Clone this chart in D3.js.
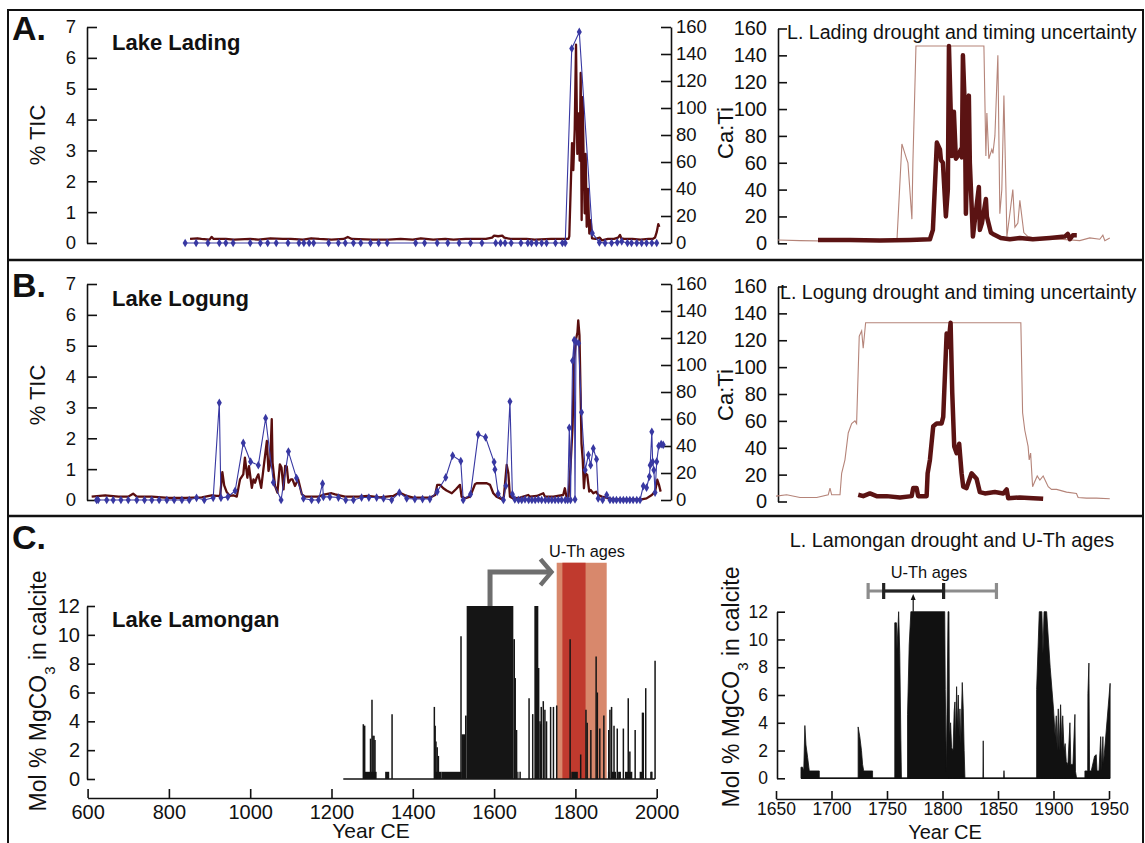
<!DOCTYPE html>
<html><head><meta charset="utf-8">
<script src="https://cdn.jsdelivr.net/npm/d3@7"></script>
<style>
body{margin:0;background:#fff}
svg{display:block}
</style>
</head><body>
<svg id="c" width="1145" height="843"></svg>
<script>
// ---------------- DATA ----------------
const ticTicks = [0,1,2,3,4,5,6,7];
const caTicks = [0,20,40,60,80,100,120,140,160];
const mgTicks = [0,2,4,6,8,10,12];
const yearTicksLeft = [600,800,1000,1200,1400,1600,1800,2000];
const yearTicksRight = [1650,1700,1750,1800,1850,1900,1950];

// Lake Lading %TIC (year, %)
const ladingTIC = [[840,0],[867,0],[896,0],[924,0],[940,0],[958,0],[1000,0],[1025,0],[1043,0],[1064,0],[1093,0],[1120,0],[1132,0],[1145,0],[1156,0],[1193,0],[1217,0],[1234,0],[1254,0],[1272,0],[1296,0],[1316,0],[1337,0],[1407,0],[1429,0],[1460,0],[1486,0],[1514,0],[1542,0],[1570,0],[1604,0],[1616,0],[1627,0],[1642,0],[1666,0],[1683,0],[1692,0],[1704,0],[1717,0],[1729,0],[1751,0],[1768,0],[1775,0],[1791,6.3],[1809.6,6.84],[1841.6,0.32],[1859,0.02],[1873,0],[1889,0],[1903,0.02],[1914,0.05],[1928,0],[1938,0],[1951,0],[1963,0],[1975,0],[1988,0],[2000,0]];
// Lake Lading Ca:Ti (year, ratio)
const ladingCaTi = [[852,3],[870,3.5],[880,3],[900,2.5],[905,4.5],[910,3],[940,3],[960,2.5],[1000,3],[1020,2.5],[1050,3.5],[1080,3],[1100,3],[1130,2.5],[1150,3.5],[1170,3],[1200,2.5],[1230,3],[1240,4.5],[1250,3],[1300,2.5],[1340,2.5],[1370,3],[1400,2.5],[1420,3.5],[1450,2.5],[1480,3],[1500,2.5],[1530,3],[1560,3],[1580,3],[1595,4],[1600,5.5],[1610,5],[1620,5.5],[1625,4],[1640,3],[1680,3],[1700,2.5],[1740,3],[1770,3],[1783,3],[1785,5],[1791.7,74],[1794.8,54],[1798.3,84],[1801.5,147],[1804.7,66],[1808.1,96],[1810.5,61],[1813,126],[1815.4,17],[1817.9,108],[1820.4,59],[1822.8,22],[1825.3,66],[1827.8,12],[1831,40],[1834.2,7],[1837.6,17],[1840.9,3.5],[1850,3],[1860,4],[1865,2],[1880,3],[1895,3],[1905,4],[1909.7,6],[1913,3.5],[1920,3],[1940,3],[1960,2.5],[1980,3],[1990,3],[1995.8,4],[2000,8],[2004,14],[2006.4,12]];

// Lake Logung %TIC
const logungTIC = [[622,0],[626,0],[647,0],[663,0],[682,0],[700,0],[721,0],[740,0],[758,0],[776,0],[795,0],[813,0],[832,0],[850,0],[868,0.07],[887,0],[909,0.07],[924,3.15],[928,0.07],[945,0.1],[963,0.3],[983,1.85],[1001,1.24],[1020,1.13],[1038,2.65],[1057,0.57],[1076,0],[1094,1.57],[1114,0.71],[1131,0.05],[1151,0],[1168,0],[1178,0.53],[1180,0.1],[1196,0.1],[1217,0.08],[1235,0],[1254,0],[1274,0.08],[1292,0.08],[1311,0.08],[1328,0.05],[1348,0],[1367,0.24],[1385,0.05],[1405,0.03],[1424,0.03],[1442,0.03],[1460,0.27],[1481,0.73],[1498,1.44],[1518,1.26],[1524,0],[1542,0.19],[1561,2.12],[1579,2.03],[1600,1.23],[1602,0.99],[1610,0.2],[1623,0],[1629,0.46],[1639,3.19],[1645,0.19],[1651,0.02],[1660,0],[1668,0],[1676,0.02],[1685,0],[1693,0],[1701,0],[1709,0.02],[1717,0],[1726,0],[1734,0],[1742,0],[1750,0],[1758,0],[1766,0],[1775,0],[1781,0],[1785,2.34],[1788,0],[1793,4.51],[1797,5.18],[1799,0.02],[1801.5,5.13],[1808,5.08],[1815,2.84],[1824,0.97],[1832,1.46],[1837.5,1.13],[1844,1.67],[1852,1.32],[1856,0.05],[1867,0],[1877,0.16],[1885,0],[1893,0],[1901,0],[1910,0],[1918,0],[1926,0],[1934,0],[1942,0],[1951,0],[1959,0],[1967,0.45],[1975,0.4],[1982,0.76],[1984,1.13],[1988,2.21],[1990,1.24],[1993,0.97],[1996,0.24],[2000,1.24],[2005,1.75],[2011,1.81],[2016,1.79]];
// Lake Logung Ca:Ti
const logungCaTi = [[610,2.5],[643,3.5],[676,2.5],[700,2.5],[712,4.7],[721,2.5],[758,2.5],[799,1.5],[840,1.5],[881,2],[905,3.5],[918,3],[926,3],[931.5,20.7],[936,10.9],[942,6],[950,3],[958,3.5],[967,2.5],[975,15.3],[983,19],[987,31.4],[993,16.5],[997,25],[1004,9],[1008,15.3],[1012,12.8],[1016,16.5],[1020,19],[1027,9],[1032,21.5],[1041,43.7],[1045,21.5],[1049,26.4],[1053,59.8],[1055,27.7],[1061,10.4],[1067,5.4],[1073,26.4],[1077,24],[1082,7.9],[1086,25.2],[1090,24.7],[1094,12.8],[1100,15.3],[1104,15.3],[1110,10.4],[1118,15.3],[1127,4.2],[1135,2.5],[1168,2.5],[1184,4.2],[1200,5],[1209,4.2],[1233,2.5],[1266,2.5],[1290,3],[1319,2],[1352,3],[1367,5.5],[1385,3],[1401,1.7],[1442,1.7],[1455,3.7],[1460,11.2],[1467,11.2],[1475,8.7],[1483,7],[1496,5],[1506,8],[1516,11.2],[1520,2.5],[1528,1.2],[1541,2.5],[1553,11.7],[1557,12.4],[1582,12.4],[1590,11.2],[1598,5],[1606,2.5],[1619,0.5],[1624,2.5],[1631,26],[1635,20],[1639,2.5],[1647,1.2],[1664,1.7],[1684,3.7],[1688,2.5],[1705,3],[1721,5],[1725,2.5],[1746,2.5],[1770,3.7],[1774,8.7],[1778,2.5],[1783,2.5],[1788,25],[1793,54],[1797,104],[1801.5,119],[1805,124],[1807,133],[1810,122],[1813,75],[1815,42],[1818,30],[1821,8.7],[1824,20],[1829,18.7],[1834,6.2],[1837.5,7.5],[1844,5],[1851,6.2],[1856,3.7],[1865,2.5],[1893,0.5],[1934,0.5],[1963,0.5],[1975,1.2],[1988,3.7],[1996,6.2],[2001.5,15],[2005.6,11.2],[2009.7,6.2]];

// Lading drought with timing uncertainty (year, Ca:Ti)
const ladingEnvelope = [[1637,2.5],[1657,2],[1693.4,1.5],[1729.7,1.5],[1745.2,2],[1749.7,74],[1754.3,62],[1755.2,60],[1758.8,18],[1759.7,60],[1762.5,147],[1824.3,147],[1826.1,65],[1827,97],[1828.8,63],[1831.5,70],[1832.5,67],[1834.3,80],[1837,140],[1838.8,22],[1840.6,40],[1842.5,110],[1844.3,42],[1845.2,5],[1847.9,22],[1850.6,40],[1852.5,12],[1855.2,15],[1857,32],[1860.6,8],[1864.3,5],[1875.2,3],[1893.4,3],[1911.5,2],[1920.6,4],[1929.7,3],[1932.5,6],[1934.3,2],[1938.8,4]];
const ladingDrought = [[1673.4,2.5],[1702.5,2.5],[1729.7,2],[1757,2.5],[1775.2,3],[1777.9,10],[1781.5,75],[1784.3,70],[1785.2,62],[1787,60],[1789.7,20],[1791.5,40],[1792.5,147],[1795.2,65],[1797,98],[1798.8,63],[1800.6,65],[1803.4,70],[1804.3,64],[1805.2,140],[1807,100],[1807.9,22],[1810.6,110],[1811.5,60],[1814.3,5],[1819.7,42],[1820.6,10],[1822.5,15],[1826.1,33],[1827,20],[1830.6,8],[1832.5,7],[1839.7,4],[1847.9,3],[1857,4],[1868.8,3],[1884.3,4],[1897.9,5],[1900.6,7],[1902.5,3],[1905.2,6],[1908.8,6]];
// Logung drought with timing uncertainty
const logungEnvelope = [[1635.2,4],[1644.9,5],[1657,3],[1672.2,3],[1682.7,5],[1684.3,10],[1685.8,5],[1693.4,5],[1694.9,21],[1697.9,31],[1700.9,51],[1704,58],[1707,60],[1708.5,58],[1710.9,123],[1713.1,127],[1714.5,114],[1716.7,133],[1857.9,133],[1859.5,66],[1861.5,53],[1864.5,41],[1865.5,31],[1866.8,36],[1868.6,11],[1870.1,14],[1872.8,19],[1875.2,16],[1878.2,19],[1882.8,11],[1885.8,9],[1890.4,9],[1899.5,7],[1908.5,6],[1910,3],[1917.6,2.5],[1926.7,2.5],[1938.8,2]];
const logungDrought = [[1710,5],[1714.5,4],[1720.6,6],[1726.7,4],[1735.8,4],[1748,3],[1758.6,4],[1760,10],[1763.1,10],[1764.5,4],[1772.2,4],[1773.1,21],[1775.2,31],[1778.2,56],[1781.3,58],[1785.8,58],[1787.3,63],[1790.4,125],[1791.8,115],[1794,133],[1795.5,81],[1797.3,41],[1799.5,36],[1801.8,43],[1804,21],[1805.5,11],[1808.5,10],[1813.1,21],[1817.6,17],[1820.6,7],[1825.2,6],[1834.3,7],[1841.9,6],[1845,9],[1846.4,2.5],[1857,3],[1869.1,2.5],[1878.2,2]];

// Lake Lamongan Mol % MgCO3 (spikes: year, value; blocks: start, end, value)
const lamSpan = [1229, 1996];
const lamBlocks = [[1278,1311,0.5],[1332,1342,0.5],[1453,1471,0.5],[1471,1520,0.5],[1520,1528.4,3.1],[1528.4,1532.5,4.4],[1532.5,1647.3,12],[1647.3,1651.4,9.7],[1651.4,1653.8,7.0],[1653.8,1657.1,3.4],[1657.1,1660,0.5],[1699,1708.8,12],[1713,1718,3.8],[1790,1806,0.5],[1880,1884,0.5],[1888,1900,0.5],[1905,1912,0.5],[1922,1940,0.5],[1958,1968,0.5],[1984,1988,0.5]];
const lamSpikes = [[1278.3,3.8],[1281.6,3.7],[1296,2.8],[1299.6,5.5],[1302,3.0],[1304.5,3.0],[1307,2.7],[1349,4.5],[1453,5.0],[1455,3.7],[1457,2.6],[1460,2.2],[1463,1.6],[1518.6,9.9],[1664,0.5],[1686,5.6],[1695,4.5],[1709.6,7.7],[1713,4.0],[1716,5.0],[1721,5.4],[1725,4.8],[1729,4.0],[1739,5.0],[1746,5.0],[1754,5.1],[1787,9.7],[1813,1.7],[1826,4.8],[1829,3.9],[1838,3.4],[1851,8.5],[1854,6.0],[1860,3.5],[1870,4.4],[1882,3.4],[1885,4.8],[1889,5.0],[1895,3.7],[1903,3.5],[1918,3.5],[1930,5.6],[1934,1.9],[1947,3.4],[1965,4.6],[1967,4.6],[1973,6.3],[1988,0.5],[1996,8.2]];
const uthBandOuter = [1754, 1877];
const uthBandInner = [1768, 1825];
const arrowPath = [[1590,12],[1590,14.35],[1739,14.35]];
const arrowHead = [[1714,15.25],[1741,14.35],[1714,13.45]];

// Lamongan recent (area outline: year, value)
const lamRecent = [[1672.5,0],[1672.5,0.8],[1674,0.8],[1675,0.53],[1676,3.8],[1677,2.4],[1678.5,1.5],[1680,0.53],[1689,0.53],[1689,0],
[1724,0],[1724,3.7],[1725.5,3.0],[1727,2.0],[1728,1.0],[1729,0.53],[1737,0.53],[1737,0],
[1757,0],[1757,11.2],[1758.5,11.2],[1759,9.3],[1760.5,12],[1761.5,9],[1762.5,2.7],[1763,0],
[1768.5,0],[1768.5,4.6],[1770,9.6],[1771.5,12],[1802,12],[1802.5,6.4],[1803.5,0.5],[1805,12],[1805.8,12],[1806.3,3],[1807.3,4.0],[1808.2,2.2],[1809.5,2],[1810.5,4.8],[1811.2,5.5],[1811.8,2.5],[1812.7,6.6],[1813.5,3.5],[1814.2,6.0],[1815,3],[1815.7,5.0],[1816.5,2.5],[1817.8,6.9],[1818.7,5.0],[1819.5,2],[1820.2,0],
[1836.4,0],[1836.7,2.7],[1837,0],
[1855.1,0],[1855.4,0.55],[1855.7,0],
[1884.8,0],[1884.8,6.4],[1887.2,12],[1889.5,12],[1890.5,9],[1891.5,12],[1893.8,12],[1897,8],[1900,5],[1901.5,3],[1902.5,4.5],[1903.3,2],[1904.3,5.0],[1905,2],[1906.4,5.3],[1907.5,2.5],[1908.3,4.5],[1909.5,2],[1910.5,2.5],[1911.5,1.2],[1913,1],[1914.8,4.0],[1915.6,1],[1917.5,1],[1919.3,4.6],[1919.8,0.5],[1920.8,0],
[1928.3,0],[1928.3,0.53],[1930.8,0.53],[1931,6.1],[1931.9,8.3],[1932.5,0.53],[1934,0.53],[1937,1.6],[1938.5,1.7],[1939.2,0.53],[1941,0.53],[1942.5,3.0],[1943.5,0.6],[1944.5,3.0],[1945,1],[1951,6.84],[1951,0]];
const uthOuter = [1733, 1848.6];
const uthInner = [1747, 1801];
const uthArrowYear = 1773.6;

// ---------------- DRAW ----------------
const BLUE = "#3838a2", RED = "#5a0e0e", THIN = "#b58479", THICK = "#5b1313";
const FONT = '"Liberation Sans", Arial, Helvetica, sans-serif';
const svg = d3.select("#c");
svg.append("rect").attr("width",1145).attr("height",843).attr("fill","#fff");

// frame
svg.append("rect").attr("x",8).attr("y",10).attr("width",1135).attr("height",845).attr("fill","none").attr("stroke","#111").attr("stroke-width",2);
[260,516].forEach(y=>svg.append("line").attr("x1",8).attr("x2",1143).attr("y1",y).attr("y2",y).attr("stroke","#111").attr("stroke-width",2.5));

const xL = d3.scaleLinear().domain([600,2000]).range([87.6,656.7]);
const xR = d3.scaleLinear().domain([1637,1939]).range([778,1110]);

function styleAxis(g, size){
  g.selectAll("text").attr("font-family",FONT).attr("font-size",size).attr("fill","#111");
  g.selectAll("line,path").attr("stroke","#111").attr("stroke-width",1.6);
}

function text(x,y,s,opt={}){
  const t = svg.append("text").attr("x",x).attr("y",y).text(s)
    .attr("font-family",FONT).attr("font-size",opt.size||20)
    .attr("font-weight",opt.bold?"bold":"normal").attr("fill","#111")
    .attr("text-anchor",opt.anchor||"start");
  if(opt.rot) t.attr("transform",`rotate(-90,${x},${y})`);
  return t;
}

function leftPanel(letter, title, y0, y1, tic, caTi, letterY, titleY, ticLabelY, caLabelY){
  const yT = d3.scaleLinear().domain([0,7]).range([y0,y1]);
  const yC = d3.scaleLinear().domain([0,160]).range([y0,y1]);
  const ga = svg.append("g").attr("transform","translate(87,0)")
    .call(d3.axisLeft(yT).tickValues(ticTicks).tickFormat(d3.format("d")).tickSize(-10).tickSizeOuter(0).tickPadding(11));
  styleAxis(ga, 18.5);
  const gb = svg.append("g").attr("transform","translate(671,0)")
    .call(d3.axisRight(yC).tickValues(caTicks).tickFormat(d3.format("d")).tickSize(-10).tickSizeOuter(0).tickPadding(5));
  styleAxis(gb, 18.5);
  svg.append("path").datum(caTi).attr("fill","none").attr("stroke",RED).attr("stroke-width",2.3)
    .attr("stroke-linejoin","round").attr("d", d3.line().x(d=>xL(d[0])).y(d=>yC(d[1])));
  svg.append("path").datum(tic).attr("fill","none").attr("stroke",BLUE).attr("stroke-width",1.1)
    .attr("d", d3.line().x(d=>xL(d[0])).y(d=>yT(d[1])));
  svg.append("g").selectAll("path").data(tic).join("path")
    .attr("transform",d=>`translate(${xL(d[0])},${yT(d[1])})`)
    .attr("d", d3.symbol(d3.symbolDiamond, 22)).attr("fill",BLUE);
  text(12, letterY, letter, {size:34, bold:true});
  text(112, titleY, title, {size:22, bold:true});
  text(45, ticLabelY, "% TIC", {size:22, anchor:"middle", rot:true});
  text(733, caLabelY, "Ca:Ti", {size:22, anchor:"middle", rot:true});
}

function rightPanel(title, y0, y1, env, dr, titleX, titleY){
  const y = d3.scaleLinear().domain([0,160]).range([y0,y1]);
  const ga = svg.append("g").attr("transform","translate(778,0)")
    .call(d3.axisLeft(y).tickValues(caTicks).tickFormat(d3.format("d")).tickSize(-9).tickSizeOuter(0).tickPadding(11));
  styleAxis(ga, 20);
  svg.append("path").datum(env).attr("fill","none").attr("stroke",THIN).attr("stroke-width",1.1)
    .attr("d", d3.line().x(d=>xR(d[0])).y(d=>y(d[1])));
  svg.append("path").datum(dr).attr("fill","none").attr("stroke",THICK).attr("stroke-width",4.5)
    .attr("stroke-linejoin","round").attr("d", d3.line().x(d=>xR(d[0])).y(d=>y(d[1])));
  text(titleX, titleY, title, {size:19.6});
}

leftPanel("A.", "Lake Lading", 243, 27, ladingTIC, ladingCaTi, 40, 50, 135, 133);
rightPanel("L. Lading drought and timing uncertainty", 243.3, 28.5, ladingEnvelope, ladingDrought, 787, 39);
leftPanel("B.", "Lake Logung", 500, 284, logungTIC, logungCaTi, 297, 306, 395, 395);
rightPanel("L. Logung drought and timing uncertainty", 501.5, 286.5, logungEnvelope, logungDrought, 780, 299);

// ---- Panel C left ----
const yCL = d3.scaleLinear().domain([0,12]).range([779,606]);
svg.append("rect").attr("x",xL(uthBandOuter[0])).attr("width",xL(uthBandOuter[1])-xL(uthBandOuter[0]))
  .attr("y",yCL(15)).attr("height",yCL(0)-yCL(15)).attr("fill","#d8886c");
svg.append("rect").attr("x",xL(uthBandInner[0])).attr("width",xL(uthBandInner[1])-xL(uthBandInner[0]))
  .attr("y",yCL(15)).attr("height",yCL(0)-yCL(15)).attr("fill","#c03a2e");
svg.append("line").attr("x1",xL(lamSpan[0])).attr("x2",xL(lamSpan[1])).attr("y1",yCL(0)).attr("y2",yCL(0)).attr("stroke","#111").attr("stroke-width",1.4);
svg.append("g").selectAll("rect").data(lamBlocks).join("rect")
  .attr("x",d=>xL(d[0])).attr("width",d=>xL(d[1])-xL(d[0])).attr("y",d=>yCL(d[2])).attr("height",d=>yCL(0)-yCL(d[2]))
  .attr("fill","#151515");
svg.append("g").selectAll("line").data(lamSpikes).join("line")
  .attr("x1",d=>xL(d[0])).attr("x2",d=>xL(d[0])).attr("y1",yCL(0)).attr("y2",d=>yCL(d[1]))
  .attr("stroke","#151515").attr("stroke-width",1.5);
const arrowLine = d3.line().x(d=>xL(d[0])).y(d=>yCL(d[1]));
svg.append("path").datum(arrowPath).attr("d",arrowLine).attr("fill","none").attr("stroke","#6e6e6e").attr("stroke-width",5);
svg.append("path").datum(arrowHead).attr("d",arrowLine).attr("fill","none").attr("stroke","#6e6e6e").attr("stroke-width",4.5);
text(587, 557, "U-Th ages", {size:16.3, anchor:"middle"});
const gcy = svg.append("g").attr("transform","translate(87,0)")
  .call(d3.axisLeft(yCL).tickValues(mgTicks).tickSize(-8).tickSizeOuter(0).tickPadding(7));
styleAxis(gcy, 20);
const gcx = svg.append("g").attr("transform","translate(0,798)")
  .call(d3.axisBottom(xL).tickValues(yearTicksLeft).tickFormat(d3.format("d")).tickSize(-9).tickSizeOuter(0).tickPadding(7));
styleAxis(gcx, 20);
text(12, 549, "C.", {size:34, bold:true});
text(112, 627, "Lake Lamongan", {size:22, bold:true});
function mgLabel(x,y){
  const t = text(x,y,"Mol % MgCO",{size:23, anchor:"middle", rot:true});
  t.append("tspan").attr("font-size",15).attr("baseline-shift","sub").text("3");
  t.append("tspan").text(" in calcite");
}
mgLabel(46, 691);
text(371, 838, "Year CE", {size:21, anchor:"middle"});

// ---- Panel C right ----
const xCR = d3.scaleLinear().domain([1650,1950]).range([776,1109]);
const yCR = d3.scaleLinear().domain([0,12]).range([778.3,611.7]);
svg.append("line").attr("x1",xCR(1672.5)).attr("x2",xCR(1951)).attr("y1",yCR(0)).attr("y2",yCR(0)).attr("stroke","#111").attr("stroke-width",1.4);
svg.append("path").datum(lamRecent).attr("fill","#111").attr("stroke","#111").attr("stroke-width",0.8)
  .attr("d", d3.area().x(d=>xCR(d[0])).y0(yCR(0)).y1(d=>yCR(d[1])));
function errBar(r, col){
  const yy = 591;
  svg.append("line").attr("x1",xCR(r[0])).attr("x2",xCR(r[1])).attr("y1",yy).attr("y2",yy).attr("stroke",col).attr("stroke-width",3.2);
  r.forEach(v=>svg.append("line").attr("x1",xCR(v)).attr("x2",xCR(v)).attr("y1",yy-8).attr("y2",yy+8).attr("stroke",col).attr("stroke-width",3.2));
}
errBar(uthOuter, "#8c8c8c");
errBar(uthInner, "#222");
svg.append("line").attr("x1",xCR(uthArrowYear)).attr("x2",xCR(uthArrowYear)).attr("y1",yCR(12)).attr("y2",599).attr("stroke","#111").attr("stroke-width",1.2);
svg.append("path").attr("d",`M${xCR(uthArrowYear)-2.5},${600}L${xCR(uthArrowYear)},${594}L${xCR(uthArrowYear)+2.5},${600}Z`).attr("fill","#111");
text(929, 578, "U-Th ages", {size:16.4, anchor:"middle"});
text(952, 547, "L. Lamongan drought and U-Th ages", {size:19.8, anchor:"middle"});
const gry = svg.append("g").attr("transform","translate(777,0)")
  .call(d3.axisLeft(yCR).tickValues(mgTicks).tickSize(-8).tickSizeOuter(0).tickPadding(9));
styleAxis(gry, 17.5);
const grx = svg.append("g").attr("transform","translate(0,799)")
  .call(d3.axisBottom(xCR).tickValues(yearTicksRight).tickFormat(d3.format("d")).tickSize(-8).tickSizeOuter(0).tickPadding(4));
styleAxis(grx, 17.5);
mgLabel(739, 687);
text(945, 839, "Year CE", {size:20, anchor:"middle"});
</script>
</body></html>
